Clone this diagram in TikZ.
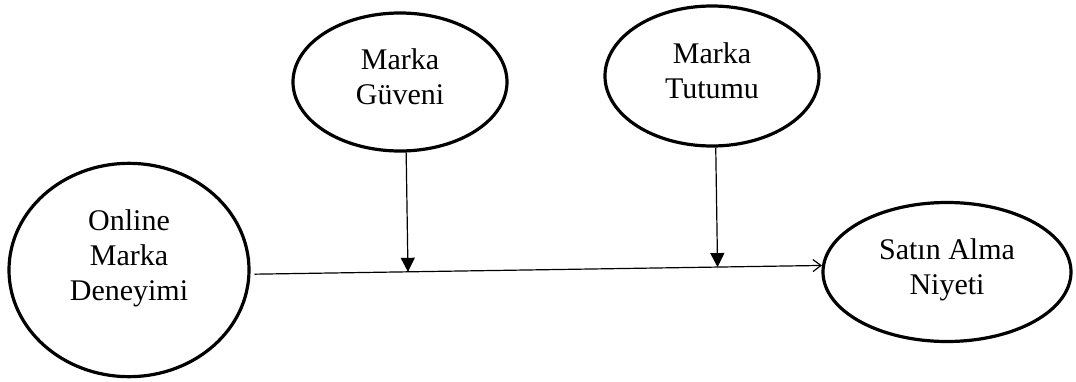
\documentclass[tikz,border=0pt]{standalone}
\usepackage{fontspec}
\setmainfont{Liberation Serif}
\usetikzlibrary{shapes.geometric,arrows.meta,calc}
\begin{document}
\begin{tikzpicture}[x=0.75pt,y=-0.75pt,
  var/.style={ellipse,draw,line width=2.4pt,inner sep=0pt},
  vtext/.style={align=center,font=\fontsize{22.5}{26.25}\selectfont},
  link/.style={line width=0.9pt},
  opentip/.style={-{Straight Barb[length=6pt,width=9pt]}},
  filltip/.style={-{Triangle[length=10.5pt,width=10.5pt]}}]
\useasboundingbox (0,0) rectangle (1076,382);
\node[var,minimum width=180pt,minimum height=160pt,
  label={[vtext,yshift=9pt]center:{Online\\Marka\\Deneyimi}}] (od) at (129,270) {};
\node[var,minimum width=160.5pt,minimum height=103.5pt,
  label={[vtext,yshift=4pt]center:{Marka\\Güveni}}] (mg) at (400,82) {};
\node[var,minimum width=160.5pt,minimum height=105pt,
  label={[vtext,yshift=4pt]center:{Marka\\Tutumu}}] (mt) at (712,76) {};
\node[var,minimum width=186pt,minimum height=104.25pt,
  label={[vtext,yshift=1.5pt]center:{Satın Alma\\Niyeti}}] (sa) at (947,272) {};
\draw[link,opentip,shorten <=3pt] (od.-2.9) -- (sa.177.7);
\coordinate (m1) at ($(od.-2.9)!(mg.-85)!(sa.177.7)$);
\coordinate (m2) at ($(od.-2.9)!(mt.-87.5)!(sa.177.7)$);
\draw[link,filltip] (mg.-85) -- (m1);
\draw[link,filltip] (mt.-87.5) -- (m2);
\end{tikzpicture}
\end{document}
